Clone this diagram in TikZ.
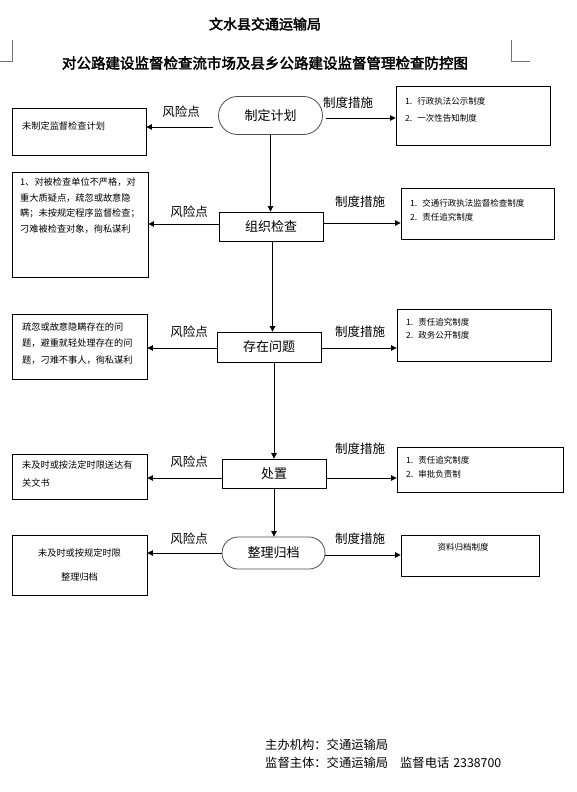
\documentclass[tikz,border=0pt]{standalone}
\usepackage{fontspec}
\newfontfamily\cjk[AutoFakeBold=2.5]{Noto Sans CJK SC}
\usetikzlibrary{arrows.meta}
\begin{document}
\begin{tikzpicture}[x=1pt,y=-1pt,
  every node/.style={font=\cjk},
  flowbox/.style={draw, line width=0.8pt, minimum width=104pt, minimum height=29pt, inner sep=0pt, font=\cjk\fontsize{13}{13}\selectfont},
  sidebox/.style={draw, line width=0.8pt, inner sep=0pt},
  arr/.style={-{Triangle[length=5.5pt,width=5.5pt]}, line width=0.7pt},
  risklbl/.style={font=\cjk\fontsize{12.5}{12.5}\selectfont, inner sep=0pt},
  ltxt/.style={font=\cjk\fontsize{9.2}{15.5}\selectfont, align=left, anchor=west, inner sep=0pt},
  rtxt/.style={font=\cjk\fontsize{8.5}{14}\selectfont, align=left, anchor=west, inner sep=0pt},
  cornermark/.style={line width=0.6pt, draw=black!55}
]
\useasboundingbox (0,0) rectangle (577,792);

% titles
\node[font=\cjk\bfseries\fontsize{14}{14}\selectfont] (t1) at (265,24) {文水县交通运输局};
\node[font=\cjk\bfseries\fontsize{14.5}{14.5}\selectfont] (t2) at (265,63) {对公路建设监督检查流市场及县乡公路建设监督管理检查防控图};
\draw[cornermark] (12,40) -- (12,61) -- (0,61);
\draw[cornermark] (511,40) -- (511,61) -- (530,61);

% main flow
\node[flowbox, minimum height=38pt, rounded corners=19pt, draw=black!70] (n1) at (270.5,115.5) {制定计划};
\node[flowbox] (n2) at (271,226.5) {组织检查};
\node[flowbox, minimum height=30pt] (n3) at (269,347) {存在问题};
\node[flowbox] (n4) at (274,473.5) {处置};
\node[flowbox, minimum width=103pt, minimum height=32pt, rounded corners=16pt, draw=black!70] (n5) at (273.5,553) {整理归档};

\draw[arr] (n1.south) -- (n1.south |- n2.north);
\draw[arr] ([xshift=1.5pt]n2.south) -- ([xshift=1.5pt]n2.south |- n3.north);
\draw[arr] (n4.north |- n3.south) -- (n4.north);
\draw[arr] (n4.south) -- (n4.south |- n5.north);

% left boxes
\node[sidebox, minimum width=134pt, minimum height=47pt] (lb1) at (79,131.5) {};
\node[sidebox, minimum width=136pt, minimum height=105pt] (lb2) at (80,224.5) {};
\node[sidebox, minimum width=135pt, minimum height=65pt] (lb3) at (79.5,346.5) {};
\node[sidebox, minimum width=135pt, minimum height=45pt] (lb4) at (79.5,476.5) {};
\node[sidebox, minimum width=135pt, minimum height=60pt] (lb5) at (79.5,565) {};

\node[ltxt] (lt1) at (22,126) {未制定监督检查计划};
\node[ltxt] (lt2) at (20,205.5) {1、对被检查单位不严格，对\\重大质疑点，疏忽或故意隐\\瞒；未按规定程序监督检查；\\刁难被检查对象，徇私谋利};
\node[ltxt, font=\cjk\fontsize{9.2}{16.5}\selectfont] (lt3) at (22,343.5) {疏忽或故意隐瞒存在的问\\题，避重就轻处理存在的问\\题，刁难不事人，徇私谋利};
\node[ltxt, font=\cjk\fontsize{9.2}{18}\selectfont] (lt4) at (22,474) {未及时或按法定时限送达有\\关文书};
\node[ltxt, font=\cjk\fontsize{9.2}{24}\selectfont, align=center, anchor=center] (lt5) at (79.5,565) {未及时或按规定时限\\整理归档};

% right boxes
\node[sidebox, minimum width=154pt, minimum height=59pt] (rb1) at (473,115.5) {};
\node[sidebox, minimum width=153pt, minimum height=51pt] (rb2) at (477.5,213.5) {};
\node[sidebox, minimum width=154pt, minimum height=52pt] (rb3) at (474,335) {};
\node[sidebox, minimum width=166pt, minimum height=45pt] (rb4) at (480,469.5) {};
\node[sidebox, minimum width=138pt, minimum height=41pt] (rb5) at (470,555.5) {};

\node[rtxt, font=\cjk\fontsize{8.5}{17.5}\selectfont] (rt1) at (405,110) {1.\hspace{5pt}行政执法公示制度\\2.\hspace{5pt}一次性告知制度};
\node[rtxt] (rt2) at (410,210) {1.\hspace{5pt}交通行政执法监督检查制度\\2.\hspace{5pt}责任追究制度};
\node[rtxt, font=\cjk\fontsize{8.5}{12.5}\selectfont] (rt3) at (406,329) {1.\hspace{5pt}责任追究制度\\2.\hspace{5pt}政务公开制度};
\node[rtxt] (rt4) at (406,467) {1.\hspace{5pt}责任追究制度\\2.\hspace{5pt}审批负责制};
\node[rtxt, anchor=center] (rt5) at (463,547) {资料归档制度};

% left arrows
\draw[arr] ([xshift=-5pt]n1.west |- 0,127) -- (lb1.east |- 0,127);
\draw[arr] (n2.west |- 0,224) -- (lb2.east |- 0,224);
\draw[arr] (n3.west |- 0,348) -- (lb3.east |- 0,348);
\draw[arr] (n4.west |- 0,478) -- (lb4.east |- 0,478);
\draw[arr] (n5.west) -- (lb5.east |- n5.west);

% right arrows
\draw[arr] ([xshift=3pt]n1.east |- 0,118) -- (rb1.west |- 0,118);
\draw[arr] (n2.east |- 0,223) -- (rb2.west |- 0,223);
\draw[arr] (n3.east |- 0,348) -- (rb3.west |- 0,348);
\draw[arr] (n4.east |- 0,478) -- (rb4.west |- 0,478);
\draw[arr] (n5.east |- 0,555) -- (rb5.west |- 0,555);

% labels
\node[risklbl] (r1) at (181,112) {风险点};
\node[risklbl] (r2) at (189,212) {风险点};
\node[risklbl] (r3) at (189,332) {风险点};
\node[risklbl] (r4) at (189,462) {风险点};
\node[risklbl] (r5) at (189,539) {风险点};
\node[risklbl] (m1) at (348,103) {制度措施};
\node[risklbl] (m2) at (360,202) {制度措施};
\node[risklbl] (m3) at (360,332) {制度措施};
\node[risklbl] (m4) at (360,449) {制度措施};
\node[risklbl] (m5) at (360,539) {制度措施};

% footer
\node[font=\cjk\fontsize{12.3}{12.3}\selectfont, anchor=west, inner sep=0pt] (f1) at (265,745) {主办机构：交通运输局};
\node[font=\cjk\fontsize{12.3}{12.3}\selectfont, anchor=west, inner sep=0pt] (f2) at (265,763) {监督主体：交通运输局\hspace{12pt}监督电话\hspace{4pt}2338700};
\end{tikzpicture}
\end{document}
